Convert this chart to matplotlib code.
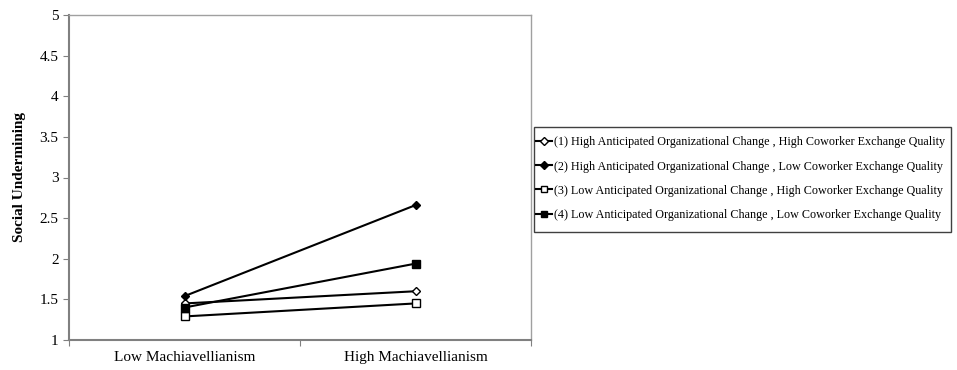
import matplotlib.pyplot as plt
from matplotlib.patches import Rectangle

plt.rcParams['font.family'] = ['Liberation Serif', 'DejaVu Serif']

categories = ["Low Machiavellianism", "High Machiavellianism"]
series_labels = [
    "(1) High Anticipated Organizational Change , High Coworker Exchange Quality",
    "(2) High Anticipated Organizational Change , Low Coworker Exchange Quality",
    "(3) Low Anticipated Organizational Change , High Coworker Exchange Quality",
    "(4) Low Anticipated Organizational Change , Low Coworker Exchange Quality",
]
s1 = [1.45, 1.60]
s2 = [1.54, 2.66]
s3 = [1.29, 1.45]
s4 = [1.40, 1.94]
y_ticks = [1, 1.5, 2, 2.5, 3, 3.5, 4, 4.5, 5]

W, H = 957, 370
fig = plt.figure(figsize=(W / 100, H / 100), dpi=100)
ax = fig.add_axes([69 / W, 30 / H, 462 / W, 325 / H])

xs = [0.5, 1.5]
styles = [
    dict(marker='D', mfc='white', ms=4.5),
    dict(marker='D', mfc='black', ms=4.5),
    dict(marker='s', mfc='white', ms=5.5),
    dict(marker='s', mfc='black', ms=5.5),
]
for vals, lab, st in zip([s1, s2, s3, s4], series_labels, styles):
    ax.plot(xs, vals, color='black', lw=1.5, mec='black', mew=1.0,
            label=lab, **st)

ax.set_xlim(0, 2)
ax.set_ylim(1, 5)
ax.set_yticks(y_ticks)
ax.set_yticklabels([f"{t:g}" for t in y_ticks])
ax.set_xticks([0, 1, 2])
ax.set_xticklabels([])
ax.set_xticks(xs, minor=True)
ax.set_xticklabels(categories, minor=True)
ax.tick_params(axis='x', which='minor', length=0, pad=8, labelsize=11)
ax.tick_params(axis='x', which='major', length=4, color='#808080', direction='out')
ax.tick_params(axis='y', length=4, color='#808080', labelsize=11, direction='out')

for side in ['left', 'bottom']:
    ax.spines[side].set_color('#808080')
    ax.spines[side].set_linewidth(1.5)
for side in ['top', 'right']:
    ax.spines[side].set_color('#a0a0a0')
    ax.spines[side].set_linewidth(1.0)

ax.set_ylabel("Social Undermining", fontsize=11, fontweight='bold', labelpad=10)

# legend without its own frame; the box is drawn separately
leg = fig.legend(loc='upper left', bbox_to_anchor=(536 / W, 1 - 136.5 / H),
                 frameon=False, fontsize=8.7, handlelength=1.3,
                 handletextpad=0.15, labelspacing=1.0, borderpad=0.0,
                 borderaxespad=0, markerscale=0.8)
fig.patches.append(Rectangle((534 / W, 1 - 232 / H), 417 / W, 105 / H,
                             transform=fig.transFigure, fill=False,
                             edgecolor='#404040', linewidth=1.0))

fig.savefig("out.png", dpi=100)
